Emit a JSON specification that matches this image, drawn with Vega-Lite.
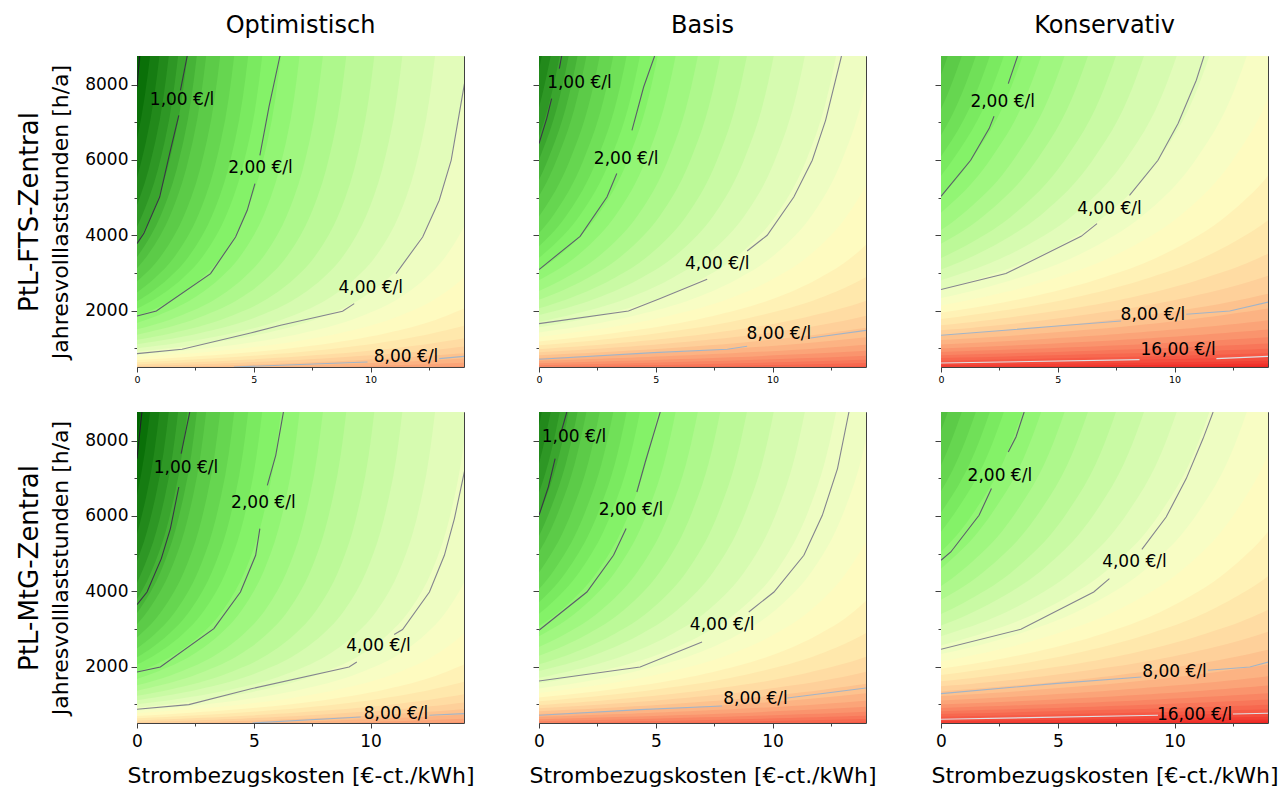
{
"$schema": "https://vega.github.io/schema/vega-lite/v6.json",
"padding": {"left": 15, "top": 13, "right": 2, "bottom": 2},
"background": "white",
"config": {
  "view": {"stroke": "#404040", "strokeWidth": 1},
  "axis": {"grid": false, "domain": false, "tickColor": "#404040", "tickWidth": 1, "labelFont": "DejaVu Sans", "titleFont": "DejaVu Sans", "labelColor": "#000000", "titleColor": "#000000", "titleFontWeight": "normal", "labelFlush": false, "labelOverlap": false, "labelBound": false},
  "title": {"font": "DejaVu Sans", "fontSize": 24, "fontWeight": "normal", "color": "#000000", "frame": "group", "anchor": "middle", "offset": 18, "baseline": "alphabetic"}
},
"datasets": {
"fO": [
{"h":500,"b01":-9,"b02":-27,"b03":-26.6,"b04":-26.2,"b05":-25.8,"b06":-25.4,"b07":-25,"b08":-24.6,"b09":-24.2,"b10":-23.6,"b11":-23,"b12":-22.4,"b13":-21.8,"b14":-21,"b15":-20.2,"b16":-19.2,"b17":-18.2,"b18":-17,"b19":-15.8,"b20":-14.4,"b21":-13,"b22":-11.4,"b23":-9.8,"b24":-7.8,"b25":-5.8,"b26":-3.4,"b27":-1,"b28":1.8,"b29":5,"b30":8.6,"b31":12.6},
{"h":600,"b01":-9,"b02":-22.2,"b03":-21.8,"b04":-21.4,"b05":-21,"b06":-20.6,"b07":-20.2,"b08":-19.8,"b09":-19.4,"b10":-18.8,"b11":-18.2,"b12":-17.6,"b13":-17,"b14":-16.2,"b15":-15.4,"b16":-14.4,"b17":-13.4,"b18":-12.2,"b19":-11,"b20":-9.6,"b21":-8.2,"b22":-6.6,"b23":-5,"b24":-3,"b25":-1,"b26":1.4,"b27":3.8,"b28":6.6,"b29":9.8,"b30":13.4,"b31":17.4},
{"h":700,"b01":-9,"b02":-18.77,"b03":-18.37,"b04":-17.97,"b05":-17.57,"b06":-17.17,"b07":-16.77,"b08":-16.37,"b09":-15.97,"b10":-15.37,"b11":-14.77,"b12":-14.17,"b13":-13.57,"b14":-12.77,"b15":-11.97,"b16":-10.97,"b17":-9.97,"b18":-8.77,"b19":-7.57,"b20":-6.17,"b21":-4.77,"b22":-3.17,"b23":-1.57,"b24":0.43,"b25":2.43,"b26":4.83,"b27":7.23,"b28":10.03,"b29":13.23,"b30":16.83,"b31":20.83},
{"h":850,"b01":-9,"b02":-15.14,"b03":-14.74,"b04":-14.34,"b05":-13.94,"b06":-13.54,"b07":-13.14,"b08":-12.74,"b09":-12.34,"b10":-11.74,"b11":-11.14,"b12":-10.54,"b13":-9.94,"b14":-9.14,"b15":-8.34,"b16":-7.34,"b17":-6.34,"b18":-5.14,"b19":-3.94,"b20":-2.54,"b21":-1.14,"b22":0.46,"b23":2.06,"b24":4.06,"b25":6.06,"b26":8.46,"b27":10.86,"b28":13.66,"b29":16.86,"b30":20.46,"b31":24.46},
{"h":1000,"b01":-9,"b02":-12.6,"b03":-12.2,"b04":-11.8,"b05":-11.4,"b06":-11,"b07":-10.6,"b08":-10.2,"b09":-9.8,"b10":-9.2,"b11":-8.6,"b12":-8,"b13":-7.4,"b14":-6.6,"b15":-5.8,"b16":-4.8,"b17":-3.8,"b18":-2.6,"b19":-1.4,"b20":0,"b21":1.4,"b22":3,"b23":4.6,"b24":6.6,"b25":8.6,"b26":11,"b27":13.4,"b28":16.2,"b29":19.4,"b30":23,"b31":27},
{"h":1250,"b01":-9,"b02":-9.72,"b03":-9.32,"b04":-8.92,"b05":-8.52,"b06":-8.12,"b07":-7.72,"b08":-7.32,"b09":-6.92,"b10":-6.32,"b11":-5.72,"b12":-5.12,"b13":-4.52,"b14":-3.72,"b15":-2.92,"b16":-1.92,"b17":-0.92,"b18":0.28,"b19":1.48,"b20":2.88,"b21":4.28,"b22":5.88,"b23":7.48,"b24":9.48,"b25":11.48,"b26":13.88,"b27":16.28,"b28":19.08,"b29":22.28,"b30":25.88,"b31":29.88},
{"h":1500,"b01":-9,"b02":-7.8,"b03":-7.4,"b04":-7,"b05":-6.6,"b06":-6.2,"b07":-5.8,"b08":-5.4,"b09":-5,"b10":-4.4,"b11":-3.8,"b12":-3.2,"b13":-2.6,"b14":-1.8,"b15":-1,"b16":0,"b17":1,"b18":2.2,"b19":3.4,"b20":4.8,"b21":6.2,"b22":7.8,"b23":9.4,"b24":11.4,"b25":13.4,"b26":15.8,"b27":18.2,"b28":21,"b29":24.2,"b30":27.8,"b31":31.8},
{"h":2000,"b01":-9,"b02":-5.4,"b03":-5,"b04":-4.6,"b05":-4.2,"b06":-3.8,"b07":-3.4,"b08":-3,"b09":-2.6,"b10":-2,"b11":-1.4,"b12":-0.8,"b13":-0.2,"b14":0.6,"b15":1.4,"b16":2.4,"b17":3.4,"b18":4.6,"b19":5.8,"b20":7.2,"b21":8.6,"b22":10.2,"b23":11.8,"b24":13.8,"b25":15.8,"b26":18.2,"b27":20.6,"b28":23.4,"b29":26.6,"b30":30.2,"b31":34.2},
{"h":2500,"b01":-9,"b02":-3.96,"b03":-3.56,"b04":-3.16,"b05":-2.76,"b06":-2.36,"b07":-1.96,"b08":-1.56,"b09":-1.16,"b10":-0.56,"b11":0.04,"b12":0.64,"b13":1.24,"b14":2.04,"b15":2.84,"b16":3.84,"b17":4.84,"b18":6.04,"b19":7.24,"b20":8.64,"b21":10.04,"b22":11.64,"b23":13.24,"b24":15.24,"b25":17.24,"b26":19.64,"b27":22.04,"b28":24.84,"b29":28.04,"b30":31.64,"b31":35.64},
{"h":3000,"b01":-9,"b02":-3,"b03":-2.6,"b04":-2.2,"b05":-1.8,"b06":-1.4,"b07":-1,"b08":-0.6,"b09":-0.2,"b10":0.4,"b11":1,"b12":1.6,"b13":2.2,"b14":3,"b15":3.8,"b16":4.8,"b17":5.8,"b18":7,"b19":8.2,"b20":9.6,"b21":11,"b22":12.6,"b23":14.2,"b24":16.2,"b25":18.2,"b26":20.6,"b27":23,"b28":25.8,"b29":29,"b30":32.6,"b31":36.6},
{"h":4000,"b01":-9,"b02":-1.8,"b03":-1.4,"b04":-1,"b05":-0.6,"b06":-0.2,"b07":0.2,"b08":0.6,"b09":1,"b10":1.6,"b11":2.2,"b12":2.8,"b13":3.4,"b14":4.2,"b15":5,"b16":6,"b17":7,"b18":8.2,"b19":9.4,"b20":10.8,"b21":12.2,"b22":13.8,"b23":15.4,"b24":17.4,"b25":19.4,"b26":21.8,"b27":24.2,"b28":27,"b29":30.2,"b30":33.8,"b31":37.8},
{"h":5000,"b01":-9,"b02":-1.08,"b03":-0.68,"b04":-0.28,"b05":0.12,"b06":0.52,"b07":0.92,"b08":1.32,"b09":1.72,"b10":2.32,"b11":2.92,"b12":3.52,"b13":4.12,"b14":4.92,"b15":5.72,"b16":6.72,"b17":7.72,"b18":8.92,"b19":10.12,"b20":11.52,"b21":12.92,"b22":14.52,"b23":16.12,"b24":18.12,"b25":20.12,"b26":22.52,"b27":24.92,"b28":27.72,"b29":30.92,"b30":34.52,"b31":38.52},
{"h":6500,"b01":-9,"b02":-0.42,"b03":-0.02,"b04":0.39,"b05":0.79,"b06":1.19,"b07":1.59,"b08":1.99,"b09":2.39,"b10":2.99,"b11":3.59,"b12":4.19,"b13":4.79,"b14":5.59,"b15":6.39,"b16":7.39,"b17":8.39,"b18":9.59,"b19":10.79,"b20":12.19,"b21":13.59,"b22":15.19,"b23":16.79,"b24":18.79,"b25":20.79,"b26":23.19,"b27":25.59,"b28":28.39,"b29":31.59,"b30":35.19,"b31":39.19},
{"h":8760,"b01":-9,"b02":0.16,"b03":0.56,"b04":0.96,"b05":1.36,"b06":1.76,"b07":2.16,"b08":2.56,"b09":2.96,"b10":3.56,"b11":4.16,"b12":4.76,"b13":5.36,"b14":6.16,"b15":6.96,"b16":7.96,"b17":8.96,"b18":10.16,"b19":11.36,"b20":12.76,"b21":14.16,"b22":15.76,"b23":17.36,"b24":19.36,"b25":21.36,"b26":23.76,"b27":26.16,"b28":28.96,"b29":32.16,"b30":35.76,"b31":39.76}
],
"fB": [
{"h":500,"b03":-9,"b04":-45.23,"b05":-44.85,"b06":-44.46,"b07":-44.08,"b08":-43.7,"b09":-43.32,"b10":-42.75,"b11":-42.17,"b12":-41.6,"b13":-41.03,"b14":-40.27,"b15":-39.5,"b16":-38.55,"b17":-37.59,"b18":-36.45,"b19":-35.3,"b20":-33.97,"b21":-32.63,"b22":-31.1,"b23":-29.58,"b24":-27.67,"b25":-25.76,"b26":-23.47,"b27":-21.18,"b28":-18.51,"b29":-15.46,"b30":-12.02,"b31":-8.2,"b32":-4.01,"b33":0.57,"b34":5.54,"b35":11.26},
{"h":600,"b03":-9,"b04":-37.22,"b05":-36.84,"b06":-36.45,"b07":-36.07,"b08":-35.69,"b09":-35.31,"b10":-34.74,"b11":-34.16,"b12":-33.59,"b13":-33.02,"b14":-32.26,"b15":-31.49,"b16":-30.54,"b17":-29.58,"b18":-28.44,"b19":-27.29,"b20":-25.96,"b21":-24.62,"b22":-23.09,"b23":-21.57,"b24":-19.66,"b25":-17.75,"b26":-15.46,"b27":-13.17,"b28":-10.5,"b29":-7.45,"b30":-4.01,"b31":-0.19,"b32":4,"b33":8.58,"b34":13.55,"b35":19.27},
{"h":700,"b03":-9,"b04":-31.49,"b05":-31.11,"b06":-30.72,"b07":-30.34,"b08":-29.96,"b09":-29.58,"b10":-29.01,"b11":-28.43,"b12":-27.86,"b13":-27.29,"b14":-26.53,"b15":-25.76,"b16":-24.81,"b17":-23.85,"b18":-22.71,"b19":-21.56,"b20":-20.23,"b21":-18.89,"b22":-17.36,"b23":-15.84,"b24":-13.93,"b25":-12.02,"b26":-9.73,"b27":-7.44,"b28":-4.77,"b29":-1.72,"b30":1.72,"b31":5.54,"b32":9.73,"b33":14.31,"b34":19.28,"b35":25},
{"h":850,"b03":-9,"b04":-25.43,"b05":-25.05,"b06":-24.66,"b07":-24.28,"b08":-23.9,"b09":-23.52,"b10":-22.95,"b11":-22.37,"b12":-21.8,"b13":-21.23,"b14":-20.47,"b15":-19.7,"b16":-18.75,"b17":-17.79,"b18":-16.65,"b19":-15.5,"b20":-14.17,"b21":-12.83,"b22":-11.3,"b23":-9.78,"b24":-7.87,"b25":-5.96,"b26":-3.67,"b27":-1.38,"b28":1.29,"b29":4.34,"b30":7.78,"b31":11.6,"b32":15.79,"b33":20.37,"b34":25.34,"b35":31.06},
{"h":1000,"b03":-9,"b04":-21.19,"b05":-20.81,"b06":-20.42,"b07":-20.04,"b08":-19.66,"b09":-19.28,"b10":-18.71,"b11":-18.13,"b12":-17.56,"b13":-16.99,"b14":-16.23,"b15":-15.46,"b16":-14.51,"b17":-13.55,"b18":-12.41,"b19":-11.26,"b20":-9.93,"b21":-8.59,"b22":-7.06,"b23":-5.54,"b24":-3.63,"b25":-1.72,"b26":0.57,"b27":2.86,"b28":5.53,"b29":8.58,"b30":12.02,"b31":15.84,"b32":20.03,"b33":24.61,"b34":29.58,"b35":35.3},
{"h":1250,"b03":-9,"b04":-16.38,"b05":-16,"b06":-15.61,"b07":-15.23,"b08":-14.85,"b09":-14.47,"b10":-13.9,"b11":-13.32,"b12":-12.75,"b13":-12.18,"b14":-11.42,"b15":-10.65,"b16":-9.7,"b17":-8.74,"b18":-7.6,"b19":-6.45,"b20":-5.12,"b21":-3.78,"b22":-2.25,"b23":-0.73,"b24":1.18,"b25":3.09,"b26":5.38,"b27":7.67,"b28":10.34,"b29":13.39,"b30":16.83,"b31":20.65,"b32":24.84,"b33":29.42,"b34":34.39,"b35":40.11},
{"h":1500,"b03":-9,"b04":-13.17,"b05":-12.79,"b06":-12.4,"b07":-12.02,"b08":-11.64,"b09":-11.26,"b10":-10.69,"b11":-10.11,"b12":-9.54,"b13":-8.97,"b14":-8.21,"b15":-7.44,"b16":-6.49,"b17":-5.53,"b18":-4.39,"b19":-3.24,"b20":-1.91,"b21":-0.57,"b22":0.96,"b23":2.48,"b24":4.39,"b25":6.3,"b26":8.59,"b27":10.88,"b28":13.55,"b29":16.6,"b30":20.04,"b31":23.86,"b32":28.05,"b33":32.63,"b34":37.6,"b35":43.32},
{"h":2000,"b03":-9,"b04":-9.16,"b05":-8.78,"b06":-8.39,"b07":-8.01,"b08":-7.63,"b09":-7.25,"b10":-6.68,"b11":-6.1,"b12":-5.53,"b13":-4.96,"b14":-4.2,"b15":-3.43,"b16":-2.48,"b17":-1.52,"b18":-0.38,"b19":0.77,"b20":2.1,"b21":3.44,"b22":4.97,"b23":6.49,"b24":8.4,"b25":10.31,"b26":12.6,"b27":14.89,"b28":17.56,"b29":20.61,"b30":24.05,"b31":27.87,"b32":32.06,"b33":36.64,"b34":41.61,"b35":47.33},
{"h":2500,"b03":-9,"b04":-6.76,"b05":-6.38,"b06":-5.99,"b07":-5.61,"b08":-5.23,"b09":-4.85,"b10":-4.28,"b11":-3.7,"b12":-3.13,"b13":-2.56,"b14":-1.8,"b15":-1.03,"b16":-0.08,"b17":0.88,"b18":2.02,"b19":3.17,"b20":4.5,"b21":5.84,"b22":7.37,"b23":8.89,"b24":10.8,"b25":12.71,"b26":15,"b27":17.29,"b28":19.96,"b29":23.01,"b30":26.45,"b31":30.27,"b32":34.46,"b33":39.04,"b34":44.01,"b35":49.73},
{"h":3000,"b03":-9,"b04":-5.16,"b05":-4.78,"b06":-4.39,"b07":-4.01,"b08":-3.63,"b09":-3.25,"b10":-2.68,"b11":-2.1,"b12":-1.53,"b13":-0.96,"b14":-0.2,"b15":0.57,"b16":1.52,"b17":2.48,"b18":3.62,"b19":4.77,"b20":6.1,"b21":7.44,"b22":8.97,"b23":10.49,"b24":12.4,"b25":14.31,"b26":16.6,"b27":18.89,"b28":21.56,"b29":24.61,"b30":28.05,"b31":31.87,"b32":36.06,"b33":40.64,"b34":45.61,"b35":51.33},
{"h":4000,"b03":-9,"b04":-3.15,"b05":-2.77,"b06":-2.38,"b07":-2,"b08":-1.62,"b09":-1.24,"b10":-0.67,"b11":-0.09,"b12":0.48,"b13":1.05,"b14":1.81,"b15":2.58,"b16":3.53,"b17":4.49,"b18":5.63,"b19":6.78,"b20":8.11,"b21":9.45,"b22":10.98,"b23":12.5,"b24":14.41,"b25":16.32,"b26":18.61,"b27":20.9,"b28":23.57,"b29":26.62,"b30":30.06,"b31":33.88,"b32":38.07,"b33":42.65,"b34":47.62,"b35":53.34},
{"h":5000,"b03":-9,"b04":-1.95,"b05":-1.57,"b06":-1.18,"b07":-0.8,"b08":-0.42,"b09":-0.04,"b10":0.53,"b11":1.11,"b12":1.68,"b13":2.25,"b14":3.01,"b15":3.78,"b16":4.73,"b17":5.69,"b18":6.83,"b19":7.98,"b20":9.31,"b21":10.65,"b22":12.18,"b23":13.7,"b24":15.61,"b25":17.52,"b26":19.81,"b27":22.1,"b28":24.77,"b29":27.82,"b30":31.26,"b31":35.08,"b32":39.27,"b33":43.85,"b34":48.82,"b35":54.54},
{"h":6500,"b03":-9,"b04":-0.84,"b05":-0.46,"b06":-0.07,"b07":0.31,"b08":0.69,"b09":1.07,"b10":1.64,"b11":2.22,"b12":2.79,"b13":3.36,"b14":4.12,"b15":4.89,"b16":5.84,"b17":6.8,"b18":7.94,"b19":9.09,"b20":10.42,"b21":11.76,"b22":13.29,"b23":14.81,"b24":16.72,"b25":18.63,"b26":20.92,"b27":23.21,"b28":25.88,"b29":28.93,"b30":32.37,"b31":36.19,"b32":40.38,"b33":44.96,"b34":49.93,"b35":55.65},
{"h":8760,"b03":-9,"b04":0.12,"b05":0.5,"b06":0.89,"b07":1.27,"b08":1.65,"b09":2.03,"b10":2.6,"b11":3.18,"b12":3.75,"b13":4.32,"b14":5.08,"b15":5.85,"b16":6.8,"b17":7.76,"b18":8.9,"b19":10.05,"b20":11.38,"b21":12.72,"b22":14.25,"b23":15.77,"b24":17.68,"b25":19.59,"b26":21.88,"b27":24.17,"b28":26.84,"b29":29.89,"b30":33.33,"b31":37.15,"b32":41.34,"b33":45.92,"b34":50.89,"b35":56.61}
],
"fK": [
{"h":500,"b08":-9,"b09":-78.16,"b10":-77.56,"b11":-76.96,"b12":-76.36,"b13":-75.76,"b14":-74.96,"b15":-74.16,"b16":-73.16,"b17":-72.16,"b18":-70.96,"b19":-69.76,"b20":-68.36,"b21":-66.96,"b22":-65.36,"b23":-63.76,"b24":-61.76,"b25":-59.76,"b26":-57.36,"b27":-54.96,"b28":-52.16,"b29":-48.96,"b30":-45.36,"b31":-41.36,"b32":-36.96,"b33":-32.16,"b34":-26.96,"b35":-20.96,"b36":-14.96,"b37":-6.96,"b38":1.04,"b39":9.04},
{"h":600,"b08":-9,"b09":-64.29,"b10":-63.69,"b11":-63.09,"b12":-62.49,"b13":-61.89,"b14":-61.09,"b15":-60.29,"b16":-59.29,"b17":-58.29,"b18":-57.09,"b19":-55.89,"b20":-54.49,"b21":-53.09,"b22":-51.49,"b23":-49.89,"b24":-47.89,"b25":-45.89,"b26":-43.49,"b27":-41.09,"b28":-38.29,"b29":-35.09,"b30":-31.49,"b31":-27.49,"b32":-23.09,"b33":-18.29,"b34":-13.09,"b35":-7.09,"b36":-1.09,"b37":6.91,"b38":14.91,"b39":22.91},
{"h":700,"b08":-9,"b09":-54.39,"b10":-53.79,"b11":-53.19,"b12":-52.59,"b13":-51.99,"b14":-51.19,"b15":-50.39,"b16":-49.39,"b17":-48.39,"b18":-47.19,"b19":-45.99,"b20":-44.59,"b21":-43.19,"b22":-41.59,"b23":-39.99,"b24":-37.99,"b25":-35.99,"b26":-33.59,"b27":-31.19,"b28":-28.39,"b29":-25.19,"b30":-21.59,"b31":-17.59,"b32":-13.19,"b33":-8.39,"b34":-3.19,"b35":2.81,"b36":8.81,"b37":16.81,"b38":24.81,"b39":32.81},
{"h":850,"b08":-9,"b09":-43.9,"b10":-43.3,"b11":-42.7,"b12":-42.1,"b13":-41.5,"b14":-40.7,"b15":-39.9,"b16":-38.9,"b17":-37.9,"b18":-36.7,"b19":-35.5,"b20":-34.1,"b21":-32.7,"b22":-31.1,"b23":-29.5,"b24":-27.5,"b25":-25.5,"b26":-23.1,"b27":-20.7,"b28":-17.9,"b29":-14.7,"b30":-11.1,"b31":-7.1,"b32":-2.7,"b33":2.1,"b34":7.3,"b35":13.3,"b36":19.3,"b37":27.3,"b38":35.3,"b39":43.3},
{"h":1000,"b08":-9,"b09":-36.56,"b10":-35.96,"b11":-35.36,"b12":-34.76,"b13":-34.16,"b14":-33.36,"b15":-32.56,"b16":-31.56,"b17":-30.56,"b18":-29.36,"b19":-28.16,"b20":-26.76,"b21":-25.36,"b22":-23.76,"b23":-22.16,"b24":-20.16,"b25":-18.16,"b26":-15.76,"b27":-13.36,"b28":-10.56,"b29":-7.36,"b30":-3.76,"b31":0.24,"b32":4.64,"b33":9.44,"b34":14.64,"b35":20.64,"b36":26.64,"b37":34.64,"b38":42.64,"b39":50.64},
{"h":1250,"b08":-9,"b09":-28.24,"b10":-27.64,"b11":-27.04,"b12":-26.44,"b13":-25.84,"b14":-25.04,"b15":-24.24,"b16":-23.24,"b17":-22.24,"b18":-21.04,"b19":-19.84,"b20":-18.44,"b21":-17.04,"b22":-15.44,"b23":-13.84,"b24":-11.84,"b25":-9.84,"b26":-7.44,"b27":-5.04,"b28":-2.24,"b29":0.96,"b30":4.56,"b31":8.56,"b32":12.96,"b33":17.76,"b34":22.96,"b35":28.96,"b36":34.96,"b37":42.96,"b38":50.96,"b39":58.96},
{"h":1500,"b08":-9,"b09":-22.69,"b10":-22.09,"b11":-21.49,"b12":-20.89,"b13":-20.29,"b14":-19.49,"b15":-18.69,"b16":-17.69,"b17":-16.69,"b18":-15.49,"b19":-14.29,"b20":-12.89,"b21":-11.49,"b22":-9.89,"b23":-8.29,"b24":-6.29,"b25":-4.29,"b26":-1.89,"b27":0.51,"b28":3.31,"b29":6.51,"b30":10.11,"b31":14.11,"b32":18.51,"b33":23.31,"b34":28.51,"b35":34.51,"b36":40.51,"b37":48.51,"b38":56.51,"b39":64.51},
{"h":2000,"b08":-9,"b09":-15.76,"b10":-15.16,"b11":-14.56,"b12":-13.96,"b13":-13.36,"b14":-12.56,"b15":-11.76,"b16":-10.76,"b17":-9.76,"b18":-8.56,"b19":-7.36,"b20":-5.96,"b21":-4.56,"b22":-2.96,"b23":-1.36,"b24":0.64,"b25":2.64,"b26":5.04,"b27":7.44,"b28":10.24,"b29":13.44,"b30":17.04,"b31":21.04,"b32":25.44,"b33":30.24,"b34":35.44,"b35":41.44,"b36":47.44,"b37":55.44,"b38":63.44,"b39":71.44},
{"h":2500,"b08":-9,"b09":-11.6,"b10":-11,"b11":-10.4,"b12":-9.8,"b13":-9.2,"b14":-8.4,"b15":-7.6,"b16":-6.6,"b17":-5.6,"b18":-4.4,"b19":-3.2,"b20":-1.8,"b21":-0.4,"b22":1.2,"b23":2.8,"b24":4.8,"b25":6.8,"b26":9.2,"b27":11.6,"b28":14.4,"b29":17.6,"b30":21.2,"b31":25.2,"b32":29.6,"b33":34.4,"b34":39.6,"b35":45.6,"b36":51.6,"b37":59.6,"b38":67.6,"b39":75.6},
{"h":3000,"b08":-9,"b09":-8.83,"b10":-8.23,"b11":-7.63,"b12":-7.03,"b13":-6.43,"b14":-5.63,"b15":-4.83,"b16":-3.83,"b17":-2.83,"b18":-1.63,"b19":-0.43,"b20":0.97,"b21":2.37,"b22":3.97,"b23":5.57,"b24":7.57,"b25":9.57,"b26":11.97,"b27":14.37,"b28":17.17,"b29":20.37,"b30":23.97,"b31":27.97,"b32":32.37,"b33":37.17,"b34":42.37,"b35":48.37,"b36":54.37,"b37":62.37,"b38":70.37,"b39":78.37},
{"h":4000,"b08":-9,"b09":-5.36,"b10":-4.76,"b11":-4.16,"b12":-3.56,"b13":-2.96,"b14":-2.16,"b15":-1.36,"b16":-0.36,"b17":0.64,"b18":1.84,"b19":3.04,"b20":4.44,"b21":5.84,"b22":7.44,"b23":9.04,"b24":11.04,"b25":13.04,"b26":15.44,"b27":17.84,"b28":20.64,"b29":23.84,"b30":27.44,"b31":31.44,"b32":35.84,"b33":40.64,"b34":45.84,"b35":51.84,"b36":57.84,"b37":65.84,"b38":73.84,"b39":81.84},
{"h":5000,"b08":-9,"b09":-3.28,"b10":-2.68,"b11":-2.08,"b12":-1.48,"b13":-0.88,"b14":-0.08,"b15":0.72,"b16":1.72,"b17":2.72,"b18":3.92,"b19":5.12,"b20":6.52,"b21":7.92,"b22":9.52,"b23":11.12,"b24":13.12,"b25":15.12,"b26":17.52,"b27":19.92,"b28":22.72,"b29":25.92,"b30":29.52,"b31":33.52,"b32":37.92,"b33":42.72,"b34":47.92,"b35":53.92,"b36":59.92,"b37":67.92,"b38":75.92,"b39":83.92},
{"h":6500,"b08":-9,"b09":-1.36,"b10":-0.76,"b11":-0.16,"b12":0.44,"b13":1.04,"b14":1.84,"b15":2.64,"b16":3.64,"b17":4.64,"b18":5.84,"b19":7.04,"b20":8.44,"b21":9.84,"b22":11.44,"b23":13.04,"b24":15.04,"b25":17.04,"b26":19.44,"b27":21.84,"b28":24.64,"b29":27.84,"b30":31.44,"b31":35.44,"b32":39.84,"b33":44.64,"b34":49.84,"b35":55.84,"b36":61.84,"b37":69.84,"b38":77.84,"b39":85.84},
{"h":8760,"b08":-9,"b09":0.29,"b10":0.89,"b11":1.49,"b12":2.09,"b13":2.69,"b14":3.49,"b15":4.29,"b16":5.29,"b17":6.29,"b18":7.49,"b19":8.69,"b20":10.09,"b21":11.49,"b22":13.09,"b23":14.69,"b24":16.69,"b25":18.69,"b26":21.09,"b27":23.49,"b28":26.29,"b29":29.49,"b30":33.09,"b31":37.09,"b32":41.49,"b33":46.29,"b34":51.49,"b35":57.49,"b36":63.49,"b37":71.49,"b38":79.49,"b39":87.49}
],
"ln": [
{"pn":"OF","lv":"0,50","sg":"OF0","p":0,"h":7937},
{"pn":"OF","lv":"0,50","sg":"OF0","p":0.11,"h":8760},
{"pn":"OF","lv":"1,00","sg":"OF1a","p":0,"h":3778},
{"pn":"OF","lv":"1,00","sg":"OF1a","p":0.29,"h":4043},
{"pn":"OF","lv":"1,00","sg":"OF1a","p":0.97,"h":5015},
{"pn":"OF","lv":"1,00","sg":"OF1a","p":1.43,"h":6255},
{"pn":"OF","lv":"1,00","sg":"OF1a","p":1.79,"h":7185},
{"pn":"OF","lv":"1,00","sg":"OF1b","p":1.86,"h":7849},
{"pn":"OF","lv":"1,00","sg":"OF1b","p":2.15,"h":8760},
{"pn":"OF","lv":"2,00","sg":"OF2a","p":0,"h":1855},
{"pn":"OF","lv":"2,00","sg":"OF2a","p":0.83,"h":1987},
{"pn":"OF","lv":"2,00","sg":"OF2a","p":3.15,"h":2981},
{"pn":"OF","lv":"2,00","sg":"OF2a","p":4.22,"h":3953},
{"pn":"OF","lv":"2,00","sg":"OF2a","p":4.72,"h":4662},
{"pn":"OF","lv":"2,00","sg":"OF2a","p":5.05,"h":5371},
{"pn":"OF","lv":"2,00","sg":"OF2b","p":5.26,"h":6123},
{"pn":"OF","lv":"2,00","sg":"OF2b","p":5.65,"h":7406},
{"pn":"OF","lv":"2,00","sg":"OF2b","p":6.12,"h":8760},
{"pn":"OF","lv":"4,00","sg":"OF4a","p":0,"h":856},
{"pn":"OF","lv":"4,00","sg":"OF4a","p":1.93,"h":970},
{"pn":"OF","lv":"4,00","sg":"OF4a","p":4.86,"h":1403},
{"pn":"OF","lv":"4,00","sg":"OF4a","p":6.15,"h":1608},
{"pn":"OF","lv":"4,00","sg":"OF4a","p":8.8,"h":1979},
{"pn":"OF","lv":"4,00","sg":"OF4a","p":9.3,"h":2184},
{"pn":"OF","lv":"4,00","sg":"OF4b","p":11.09,"h":2981},
{"pn":"OF","lv":"4,00","sg":"OF4b","p":12.23,"h":3953},
{"pn":"OF","lv":"4,00","sg":"OF4b","p":12.94,"h":4928},
{"pn":"OF","lv":"4,00","sg":"OF4b","p":13.45,"h":5990},
{"pn":"OF","lv":"4,00","sg":"OF4b","p":14.02,"h":8027},
{"pn":"OF","lv":"8,00","sg":"OF8a","p":4.15,"h":500},
{"pn":"OF","lv":"8,00","sg":"OF8a","p":9.87,"h":633},
{"pn":"OF","lv":"8,00","sg":"OF8b","p":12.94,"h":723},
{"pn":"OF","lv":"8,00","sg":"OF8b","p":14.02,"h":784},
{"pn":"OM","lv":"0,50","sg":"OM0","p":0,"h":7522},
{"pn":"OM","lv":"0,50","sg":"OM0","p":0.21,"h":8760},
{"pn":"OM","lv":"1,00","sg":"OM1a","p":0,"h":3645},
{"pn":"OM","lv":"1,00","sg":"OM1a","p":0.43,"h":3979},
{"pn":"OM","lv":"1,00","sg":"OM1a","p":1.04,"h":4866},
{"pn":"OM","lv":"1,00","sg":"OM1a","p":1.43,"h":5663},
{"pn":"OM","lv":"1,00","sg":"OM1a","p":1.79,"h":6768},
{"pn":"OM","lv":"1,00","sg":"OM1b","p":1.89,"h":7655},
{"pn":"OM","lv":"1,00","sg":"OM1b","p":2.26,"h":8760},
{"pn":"OM","lv":"2,00","sg":"OM2a","p":0,"h":1855},
{"pn":"OM","lv":"2,00","sg":"OM2a","p":1.0,"h":1987},
{"pn":"OM","lv":"2,00","sg":"OM2a","p":3.29,"h":3007},
{"pn":"OM","lv":"2,00","sg":"OM2a","p":4.43,"h":3979},
{"pn":"OM","lv":"2,00","sg":"OM2a","p":5.08,"h":4954},
{"pn":"OM","lv":"2,00","sg":"OM2a","p":5.26,"h":5663},
{"pn":"OM","lv":"2,00","sg":"OM2b","p":5.58,"h":6813},
{"pn":"OM","lv":"2,00","sg":"OM2b","p":5.94,"h":7610},
{"pn":"OM","lv":"2,00","sg":"OM2b","p":6.27,"h":8760},
{"pn":"OM","lv":"4,00","sg":"OM4a","p":0,"h":864},
{"pn":"OM","lv":"4,00","sg":"OM4a","p":2.22,"h":989},
{"pn":"OM","lv":"4,00","sg":"OM4a","p":4.93,"h":1414},
{"pn":"OM","lv":"4,00","sg":"OM4a","p":9.08,"h":1987},
{"pn":"OM","lv":"4,00","sg":"OM4a","p":9.41,"h":2120},
{"pn":"OM","lv":"4,00","sg":"OM4b","p":11.01,"h":2848},
{"pn":"OM","lv":"4,00","sg":"OM4b","p":11.37,"h":2981},
{"pn":"OM","lv":"4,00","sg":"OM4b","p":12.52,"h":3979},
{"pn":"OM","lv":"4,00","sg":"OM4b","p":13.16,"h":4954},
{"pn":"OM","lv":"4,00","sg":"OM4b","p":13.59,"h":5929},
{"pn":"OM","lv":"4,00","sg":"OM4b","p":14.02,"h":7185},
{"pn":"OM","lv":"8,00","sg":"OM8a","p":4.94,"h":500},
{"pn":"OM","lv":"8,00","sg":"OM8a","p":9.58,"h":659},
{"pn":"OM","lv":"8,00","sg":"OM8b","p":12.52,"h":705},
{"pn":"OM","lv":"8,00","sg":"OM8b","p":14.02,"h":750},
{"pn":"BF","lv":"1,00","sg":"BF1a","p":0,"h":6434},
{"pn":"BF","lv":"1,00","sg":"BF1a","p":0.33,"h":7097},
{"pn":"BF","lv":"1,00","sg":"BF1a","p":0.54,"h":7629},
{"pn":"BF","lv":"1,00","sg":"BF1b","p":0.87,"h":8426},
{"pn":"BF","lv":"1,00","sg":"BF1b","p":0.97,"h":8760},
{"pn":"BF","lv":"2,00","sg":"BF2a","p":0,"h":3087},
{"pn":"BF","lv":"2,00","sg":"BF2a","p":1.76,"h":3971},
{"pn":"BF","lv":"2,00","sg":"BF2a","p":2.91,"h":5015},
{"pn":"BF","lv":"2,00","sg":"BF2a","p":3.33,"h":5637},
{"pn":"BF","lv":"2,00","sg":"BF2b","p":3.98,"h":6787},
{"pn":"BF","lv":"2,00","sg":"BF2b","p":4.48,"h":7937},
{"pn":"BF","lv":"2,00","sg":"BF2b","p":4.95,"h":8760},
{"pn":"BF","lv":"4,00","sg":"BF4a","p":0,"h":1653},
{"pn":"BF","lv":"4,00","sg":"BF4a","p":3.83,"h":1987},
{"pn":"BF","lv":"4,00","sg":"BF4a","p":5.19,"h":2317},
{"pn":"BF","lv":"4,00","sg":"BF4a","p":7.2,"h":2829},
{"pn":"BF","lv":"4,00","sg":"BF4b","p":8.91,"h":3581},
{"pn":"BF","lv":"4,00","sg":"BF4b","p":9.77,"h":3998},
{"pn":"BF","lv":"4,00","sg":"BF4b","p":10.91,"h":5015},
{"pn":"BF","lv":"4,00","sg":"BF4b","p":11.7,"h":5990},
{"pn":"BF","lv":"4,00","sg":"BF4b","p":12.27,"h":7052},
{"pn":"BF","lv":"4,00","sg":"BF4b","p":12.95,"h":8760},
{"pn":"BF","lv":"8,00","sg":"BF8a","p":0,"h":705},
{"pn":"BF","lv":"8,00","sg":"BF8a","p":4.91,"h":882},
{"pn":"BF","lv":"8,00","sg":"BF8a","p":8.06,"h":970},
{"pn":"BF","lv":"8,00","sg":"BF8a","p":8.91,"h":1050},
{"pn":"BF","lv":"8,00","sg":"BF8b","p":11.63,"h":1270},
{"pn":"BF","lv":"8,00","sg":"BF8b","p":14.02,"h":1475},
{"pn":"BM","lv":"1,00","sg":"BM1a","p":0,"h":6016},
{"pn":"BM","lv":"1,00","sg":"BM1a","p":0.4,"h":6768},
{"pn":"BM","lv":"1,00","sg":"BM1a","p":0.69,"h":7522},
{"pn":"BM","lv":"1,00","sg":"BM1b","p":0.97,"h":8274},
{"pn":"BM","lv":"1,00","sg":"BM1b","p":1.19,"h":8760},
{"pn":"BM","lv":"2,00","sg":"BM2a","p":0,"h":2962},
{"pn":"BM","lv":"2,00","sg":"BM2a","p":2.05,"h":3979},
{"pn":"BM","lv":"2,00","sg":"BM2a","p":3.19,"h":4954},
{"pn":"BM","lv":"2,00","sg":"BM2a","p":3.73,"h":5663},
{"pn":"BM","lv":"2,00","sg":"BM2b","p":4.19,"h":6635},
{"pn":"BM","lv":"2,00","sg":"BM2b","p":4.55,"h":7432},
{"pn":"BM","lv":"2,00","sg":"BM2b","p":5.19,"h":8760},
{"pn":"BM","lv":"4,00","sg":"BM4a","p":0,"h":1616},
{"pn":"BM","lv":"4,00","sg":"BM4a","p":4.33,"h":1987},
{"pn":"BM","lv":"4,00","sg":"BM4a","p":6.98,"h":2651},
{"pn":"BM","lv":"4,00","sg":"BM4b","p":8.98,"h":3448},
{"pn":"BM","lv":"4,00","sg":"BM4b","p":10.06,"h":3979},
{"pn":"BM","lv":"4,00","sg":"BM4b","p":11.34,"h":4954},
{"pn":"BM","lv":"4,00","sg":"BM4b","p":12.13,"h":6016},
{"pn":"BM","lv":"4,00","sg":"BM4b","p":12.78,"h":7257},
{"pn":"BM","lv":"4,00","sg":"BM4b","p":13.27,"h":8760},
{"pn":"BM","lv":"8,00","sg":"BM8a","p":0,"h":705},
{"pn":"BM","lv":"8,00","sg":"BM8a","p":4.33,"h":856},
{"pn":"BM","lv":"8,00","sg":"BM8a","p":7.84,"h":952},
{"pn":"BM","lv":"8,00","sg":"BM8b","p":10.63,"h":1164},
{"pn":"BM","lv":"8,00","sg":"BM8b","p":14.0,"h":1430},
{"pn":"KF","lv":"2,00","sg":"KF2a","p":0,"h":5034},
{"pn":"KF","lv":"2,00","sg":"KF2a","p":1.27,"h":5990},
{"pn":"KF","lv":"2,00","sg":"KF2a","p":2.06,"h":6832},
{"pn":"KF","lv":"2,00","sg":"KF2a","p":2.27,"h":7159},
{"pn":"KF","lv":"2,00","sg":"KF2b","p":2.88,"h":8027},
{"pn":"KF","lv":"2,00","sg":"KF2b","p":3.28,"h":8760},
{"pn":"KF","lv":"4,00","sg":"KF4a","p":0,"h":2556},
{"pn":"KF","lv":"4,00","sg":"KF4a","p":2.78,"h":2981},
{"pn":"KF","lv":"4,00","sg":"KF4a","p":6.0,"h":3971},
{"pn":"KF","lv":"4,00","sg":"KF4a","p":6.68,"h":4309},
{"pn":"KF","lv":"4,00","sg":"KF4b","p":8.07,"h":5060},
{"pn":"KF","lv":"4,00","sg":"KF4b","p":9.29,"h":5990},
{"pn":"KF","lv":"4,00","sg":"KF4b","p":10.15,"h":6965},
{"pn":"KF","lv":"4,00","sg":"KF4b","p":10.93,"h":8115},
{"pn":"KF","lv":"4,00","sg":"KF4b","p":11.26,"h":8760},
{"pn":"KF","lv":"8,00","sg":"KF8a","p":0,"h":1342},
{"pn":"KF","lv":"8,00","sg":"KF8a","p":4.85,"h":1581},
{"pn":"KF","lv":"8,00","sg":"KF8a","p":7.71,"h":1722},
{"pn":"KF","lv":"8,00","sg":"KF8b","p":10.5,"h":1900},
{"pn":"KF","lv":"8,00","sg":"KF8b","p":12.36,"h":1987},
{"pn":"KF","lv":"8,00","sg":"KF8b","p":14.02,"h":2226},
{"pn":"KF","lv":"16,00","sg":"KF16a","p":0,"h":606},
{"pn":"KF","lv":"16,00","sg":"KF16a","p":8.5,"h":697},
{"pn":"KF","lv":"16,00","sg":"KF16b","p":11.79,"h":723},
{"pn":"KF","lv":"16,00","sg":"KF16b","p":14.02,"h":784},
{"pn":"KM","lv":"2,00","sg":"KM2a","p":0,"h":4821},
{"pn":"KM","lv":"2,00","sg":"KM2a","p":0.42,"h":5042},
{"pn":"KM","lv":"2,00","sg":"KM2a","p":1.63,"h":6016},
{"pn":"KM","lv":"2,00","sg":"KM2a","p":2.16,"h":6726},
{"pn":"KM","lv":"2,00","sg":"KM2b","p":2.88,"h":7698},
{"pn":"KM","lv":"2,00","sg":"KM2b","p":3.21,"h":8096},
{"pn":"KM","lv":"2,00","sg":"KM2b","p":3.56,"h":8760},
{"pn":"KM","lv":"4,00","sg":"KM4a","p":0,"h":2457},
{"pn":"KM","lv":"4,00","sg":"KM4a","p":3.42,"h":2989},
{"pn":"KM","lv":"4,00","sg":"KM4a","p":6.54,"h":3979},
{"pn":"KM","lv":"4,00","sg":"KM4a","p":7.21,"h":4335},
{"pn":"KM","lv":"4,00","sg":"KM4b","p":8.6,"h":5113},
{"pn":"KM","lv":"4,00","sg":"KM4b","p":9.64,"h":5971},
{"pn":"KM","lv":"4,00","sg":"KM4b","p":10.5,"h":6991},
{"pn":"KM","lv":"4,00","sg":"KM4b","p":11.22,"h":8054},
{"pn":"KM","lv":"4,00","sg":"KM4b","p":11.65,"h":8760},
{"pn":"KM","lv":"8,00","sg":"KM8a","p":0,"h":1281},
{"pn":"KM","lv":"8,00","sg":"KM8a","p":4.85,"h":1546},
{"pn":"KM","lv":"8,00","sg":"KM8a","p":8.58,"h":1722},
{"pn":"KM","lv":"8,00","sg":"KM8b","p":11.43,"h":1900},
{"pn":"KM","lv":"8,00","sg":"KM8b","p":13.22,"h":1987},
{"pn":"KM","lv":"8,00","sg":"KM8b","p":14.02,"h":2120},
{"pn":"KM","lv":"16,00","sg":"KM16a","p":0,"h":598},
{"pn":"KM","lv":"16,00","sg":"KM16a","p":9.29,"h":705},
{"pn":"KM","lv":"16,00","sg":"KM16b","p":12.5,"h":739},
{"pn":"KM","lv":"16,00","sg":"KM16b","p":14.02,"h":758}
],
"lb": [
{"pn":"OF","t":"1,00 €/l","p":1.93,"h":7583},
{"pn":"OF","t":"2,00 €/l","p":5.29,"h":5785},
{"pn":"OF","t":"4,00 €/l","p":10.01,"h":2609},
{"pn":"OF","t":"8,00 €/l","p":11.52,"h":766},
{"pn":"OM","t":"1,00 €/l","p":2.1,"h":7273},
{"pn":"OM","t":"2,00 €/l","p":5.41,"h":6354},
{"pn":"OM","t":"4,00 €/l","p":10.34,"h":2545},
{"pn":"OM","t":"8,00 €/l","p":11.09,"h":750},
{"pn":"BF","t":"1,00 €/l","p":1.73,"h":8054},
{"pn":"BF","t":"2,00 €/l","p":3.73,"h":6035},
{"pn":"BF","t":"4,00 €/l","p":7.63,"h":3246},
{"pn":"BF","t":"8,00 €/l","p":10.27,"h":1387},
{"pn":"BM","t":"1,00 €/l","p":1.5,"h":8096},
{"pn":"BM","t":"2,00 €/l","p":3.94,"h":6149},
{"pn":"BM","t":"4,00 €/l","p":7.84,"h":3095},
{"pn":"BM","t":"8,00 €/l","p":9.27,"h":1129},
{"pn":"KF","t":"2,00 €/l","p":2.64,"h":7538},
{"pn":"KF","t":"4,00 €/l","p":7.21,"h":4707},
{"pn":"KF","t":"8,00 €/l","p":9.07,"h":1873},
{"pn":"KF","t":"16,00 €/l","p":10.15,"h":944},
{"pn":"KM","t":"2,00 €/l","p":2.52,"h":7060},
{"pn":"KM","t":"4,00 €/l","p":8.28,"h":4776},
{"pn":"KM","t":"8,00 €/l","p":10.0,"h":1855},
{"pn":"KM","t":"16,00 €/l","p":10.86,"h":723}
]
},
"columns": 3,
"spacing": {"row": 45, "column": 75},
"bounds": "flush",
"concat": [
 {"width": 327, "height": 311, "title": {"text": "Optimistisch"},
  "resolve": {"axis": {"y": "independent"}},
  "layer": [
   {"data": {"name": "fO"}, "transform": [{"fold": ["b01","b02","b03","b04","b05","b06","b07","b08","b09","b10","b11","b12","b13","b14","b15","b16","b17","b18","b19","b20","b21","b22","b23","b24","b25","b26","b27","b28","b29","b30","b31"], "as": ["k", "x"]}],
    "mark": {"type": "area", "orient": "horizontal", "interpolate": "monotone", "clip": true, "opacity": 1},
    "encoding": {
     "y": {"field": "h", "type": "quantitative", "scale": {"domain": [500, 8760], "nice": false, "zero": false}, "axis": {"orient": "left", "values": [1000,2000,3000,4000,5000,6000,7000,8000], "format": "d", "labelExpr": "datum.value % 2000 === 0 ? datum.label : ''", "tickSize": {"condition": {"test": "datum.value % 2000 !== 0", "value": 3}, "value": 6}, "labelFontSize": 17, "labelPadding": 3, "title": "Jahresvolllaststunden [h/a]", "titleFontSize": 22, "titlePadding": 12}},
     "x": {"field": "x", "type": "quantitative", "stack": null, "scale": {"domain": [0, 14], "nice": false, "zero": false}, "axis": {"values": [0,2.5,5,7.5,10,12.5], "format": "d", "labelExpr": "datum.value % 5 === 0 ? datum.label : ''", "tickSize": {"condition": {"test": "datum.value % 5 !== 0", "value": 3}, "value": 5}, "labelFontSize": 9.5, "labelPadding": 2, "title": null}},
     "x2": {"datum": 100},
     "fill": {"field": "k", "type": "nominal", "legend": null, "scale": {"domain": ["b01","b02","b03","b04","b05","b06","b07","b08","b09","b10","b11","b12","b13","b14","b15","b16","b17","b18","b19","b20","b21","b22","b23","b24","b25","b26","b27","b28","b29","b30","b31","b32","b33","b34","b35","b36","b37","b38","b39"], "range": ["#006400","#0a7008","#167c12","#22891b","#2e9725","#3aa52e","#46b337","#52c040","#5ccb48","#66d650","#70e058","#7aea60","#84f268","#92f574","#a0f780","#aef88c","#bcf998","#c9faa4","#d6fbb0","#e2fcba","#eefdc2","#f8fdc4","#fefbc0","#fff2b6","#ffe8ac","#ffdca3","#fed09a","#fdc28e","#fcb383","#fba478","#fa946d","#f98563","#f87659","#f7684f","#f65a46","#f44c3d","#f23f34","#f0322b","#ee2622"]}}
    }},
   {"data": {"name": "ln"}, "transform": [{"filter": {"field": "pn", "equal": "OF"}}], "mark": {"type": "line", "clip": true, "strokeWidth": 1.1},
    "encoding": {"x": {"field": "p", "type": "quantitative"}, "y": {"field": "h", "type": "quantitative", "axis": {"orient": "left", "offset": 90, "title": "PtL-FTS-Zentral", "titleFontSize": 26, "titlePadding": 5, "labels": false, "ticks": false, "domain": false, "grid": false}}, "detail": {"field": "sg"},
     "color": {"field": "lv", "type": "nominal", "legend": null, "scale": {"domain": ["0,50","1,00","2,00","4,00","8,00","16,00"], "range": ["#1e1e26","#3a3646","#5c5c6a","#84848e","#a2b4c8","#e0e0e4"]}}}},
   {"data": {"name": "lb"}, "transform": [{"filter": {"field": "pn", "equal": "OF"}}], "mark": {"type": "text", "fontSize": 17, "font": "DejaVu Sans", "color": "#000000"},
    "encoding": {"x": {"field": "p", "type": "quantitative"}, "y": {"field": "h", "type": "quantitative", "axis": null}, "text": {"field": "t"}}}
  ]},
 {"width": 327, "height": 311, "title": {"text": "Basis"},
  "layer": [
   {"data": {"name": "fB"}, "transform": [{"fold": ["b03","b04","b05","b06","b07","b08","b09","b10","b11","b12","b13","b14","b15","b16","b17","b18","b19","b20","b21","b22","b23","b24","b25","b26","b27","b28","b29","b30","b31","b32","b33","b34","b35"], "as": ["k", "x"]}],
    "mark": {"type": "area", "orient": "horizontal", "interpolate": "monotone", "clip": true, "opacity": 1},
    "encoding": {
     "y": {"field": "h", "type": "quantitative", "scale": {"domain": [500, 8760], "nice": false, "zero": false}, "axis": {"values": [1000,2000,3000,4000,5000,6000,7000,8000], "labels": false, "tickSize": {"condition": {"test": "datum.value % 2000 !== 0", "value": 3}, "value": 6}, "title": null}},
     "x": {"field": "x", "type": "quantitative", "stack": null, "scale": {"domain": [0, 14], "nice": false, "zero": false}, "axis": {"values": [0,2.5,5,7.5,10,12.5], "format": "d", "labelExpr": "datum.value % 5 === 0 ? datum.label : ''", "tickSize": {"condition": {"test": "datum.value % 5 !== 0", "value": 3}, "value": 5}, "labelFontSize": 9.5, "labelPadding": 2, "title": null}},
     "x2": {"datum": 100},
     "fill": {"field": "k", "type": "nominal", "legend": null, "scale": {"domain": ["b01","b02","b03","b04","b05","b06","b07","b08","b09","b10","b11","b12","b13","b14","b15","b16","b17","b18","b19","b20","b21","b22","b23","b24","b25","b26","b27","b28","b29","b30","b31","b32","b33","b34","b35","b36","b37","b38","b39"], "range": ["#006400","#0a7008","#167c12","#22891b","#2e9725","#3aa52e","#46b337","#52c040","#5ccb48","#66d650","#70e058","#7aea60","#84f268","#92f574","#a0f780","#aef88c","#bcf998","#c9faa4","#d6fbb0","#e2fcba","#eefdc2","#f8fdc4","#fefbc0","#fff2b6","#ffe8ac","#ffdca3","#fed09a","#fdc28e","#fcb383","#fba478","#fa946d","#f98563","#f87659","#f7684f","#f65a46","#f44c3d","#f23f34","#f0322b","#ee2622"]}}
    }},
   {"data": {"name": "ln"}, "transform": [{"filter": {"field": "pn", "equal": "BF"}}], "mark": {"type": "line", "clip": true, "strokeWidth": 1.1},
    "encoding": {"x": {"field": "p", "type": "quantitative"}, "y": {"field": "h", "type": "quantitative"}, "detail": {"field": "sg"},
     "color": {"field": "lv", "type": "nominal", "legend": null, "scale": {"domain": ["0,50","1,00","2,00","4,00","8,00","16,00"], "range": ["#1e1e26","#3a3646","#5c5c6a","#84848e","#a2b4c8","#e0e0e4"]}}}},
   {"data": {"name": "lb"}, "transform": [{"filter": {"field": "pn", "equal": "BF"}}], "mark": {"type": "text", "fontSize": 17, "font": "DejaVu Sans", "color": "#000000"},
    "encoding": {"x": {"field": "p", "type": "quantitative"}, "y": {"field": "h", "type": "quantitative"}, "text": {"field": "t"}}}
  ]},
 {"width": 327, "height": 311, "title": {"text": "Konservativ"},
  "layer": [
   {"data": {"name": "fK"}, "transform": [{"fold": ["b08","b09","b10","b11","b12","b13","b14","b15","b16","b17","b18","b19","b20","b21","b22","b23","b24","b25","b26","b27","b28","b29","b30","b31","b32","b33","b34","b35","b36","b37","b38","b39"], "as": ["k", "x"]}],
    "mark": {"type": "area", "orient": "horizontal", "interpolate": "monotone", "clip": true, "opacity": 1},
    "encoding": {
     "y": {"field": "h", "type": "quantitative", "scale": {"domain": [500, 8760], "nice": false, "zero": false}, "axis": {"values": [1000,2000,3000,4000,5000,6000,7000,8000], "labels": false, "tickSize": {"condition": {"test": "datum.value % 2000 !== 0", "value": 3}, "value": 6}, "title": null}},
     "x": {"field": "x", "type": "quantitative", "stack": null, "scale": {"domain": [0, 14], "nice": false, "zero": false}, "axis": {"values": [0,2.5,5,7.5,10,12.5], "format": "d", "labelExpr": "datum.value % 5 === 0 ? datum.label : ''", "tickSize": {"condition": {"test": "datum.value % 5 !== 0", "value": 3}, "value": 5}, "labelFontSize": 9.5, "labelPadding": 2, "title": null}},
     "x2": {"datum": 100},
     "fill": {"field": "k", "type": "nominal", "legend": null, "scale": {"domain": ["b01","b02","b03","b04","b05","b06","b07","b08","b09","b10","b11","b12","b13","b14","b15","b16","b17","b18","b19","b20","b21","b22","b23","b24","b25","b26","b27","b28","b29","b30","b31","b32","b33","b34","b35","b36","b37","b38","b39"], "range": ["#006400","#0a7008","#167c12","#22891b","#2e9725","#3aa52e","#46b337","#52c040","#5ccb48","#66d650","#70e058","#7aea60","#84f268","#92f574","#a0f780","#aef88c","#bcf998","#c9faa4","#d6fbb0","#e2fcba","#eefdc2","#f8fdc4","#fefbc0","#fff2b6","#ffe8ac","#ffdca3","#fed09a","#fdc28e","#fcb383","#fba478","#fa946d","#f98563","#f87659","#f7684f","#f65a46","#f44c3d","#f23f34","#f0322b","#ee2622"]}}
    }},
   {"data": {"name": "ln"}, "transform": [{"filter": {"field": "pn", "equal": "KF"}}], "mark": {"type": "line", "clip": true, "strokeWidth": 1.1},
    "encoding": {"x": {"field": "p", "type": "quantitative"}, "y": {"field": "h", "type": "quantitative"}, "detail": {"field": "sg"},
     "color": {"field": "lv", "type": "nominal", "legend": null, "scale": {"domain": ["0,50","1,00","2,00","4,00","8,00","16,00"], "range": ["#1e1e26","#3a3646","#5c5c6a","#84848e","#a2b4c8","#e0e0e4"]}}}},
   {"data": {"name": "lb"}, "transform": [{"filter": {"field": "pn", "equal": "KF"}}], "mark": {"type": "text", "fontSize": 17, "font": "DejaVu Sans", "color": "#000000"},
    "encoding": {"x": {"field": "p", "type": "quantitative"}, "y": {"field": "h", "type": "quantitative"}, "text": {"field": "t"}}}
  ]},
 {"width": 327, "height": 311,
  "resolve": {"axis": {"y": "independent"}},
  "layer": [
   {"data": {"name": "fO"}, "transform": [{"fold": ["b01","b02","b03","b04","b05","b06","b07","b08","b09","b10","b11","b12","b13","b14","b15","b16","b17","b18","b19","b20","b21","b22","b23","b24","b25","b26","b27","b28","b29","b30","b31"], "as": ["k", "x"]}],
    "mark": {"type": "area", "orient": "horizontal", "interpolate": "monotone", "clip": true, "opacity": 1},
    "encoding": {
     "y": {"field": "h", "type": "quantitative", "scale": {"domain": [500, 8760], "nice": false, "zero": false}, "axis": {"orient": "left", "values": [1000,2000,3000,4000,5000,6000,7000,8000], "format": "d", "labelExpr": "datum.value % 2000 === 0 ? datum.label : ''", "tickSize": {"condition": {"test": "datum.value % 2000 !== 0", "value": 3}, "value": 6}, "labelFontSize": 17, "labelPadding": 3, "title": "Jahresvolllaststunden [h/a]", "titleFontSize": 22, "titlePadding": 12}},
     "x": {"field": "x", "type": "quantitative", "stack": null, "scale": {"domain": [0, 14], "nice": false, "zero": false}, "axis": {"values": [0,2.5,5,7.5,10,12.5], "format": "d", "labelExpr": "datum.value % 5 === 0 ? datum.label : ''", "tickSize": {"condition": {"test": "datum.value % 5 !== 0", "value": 3}, "value": 5}, "labelFontSize": 17, "labelPadding": 5, "title": "Strombezugskosten [€-ct./kWh]", "titleFontSize": 22, "titlePadding": 16}},
     "x2": {"datum": 100},
     "fill": {"field": "k", "type": "nominal", "legend": null, "scale": {"domain": ["b01","b02","b03","b04","b05","b06","b07","b08","b09","b10","b11","b12","b13","b14","b15","b16","b17","b18","b19","b20","b21","b22","b23","b24","b25","b26","b27","b28","b29","b30","b31","b32","b33","b34","b35","b36","b37","b38","b39"], "range": ["#006400","#0a7008","#167c12","#22891b","#2e9725","#3aa52e","#46b337","#52c040","#5ccb48","#66d650","#70e058","#7aea60","#84f268","#92f574","#a0f780","#aef88c","#bcf998","#c9faa4","#d6fbb0","#e2fcba","#eefdc2","#f8fdc4","#fefbc0","#fff2b6","#ffe8ac","#ffdca3","#fed09a","#fdc28e","#fcb383","#fba478","#fa946d","#f98563","#f87659","#f7684f","#f65a46","#f44c3d","#f23f34","#f0322b","#ee2622"]}}
    }},
   {"data": {"name": "ln"}, "transform": [{"filter": {"field": "pn", "equal": "OM"}}], "mark": {"type": "line", "clip": true, "strokeWidth": 1.1},
    "encoding": {"x": {"field": "p", "type": "quantitative"}, "y": {"field": "h", "type": "quantitative", "axis": {"orient": "left", "offset": 90, "title": "PtL-MtG-Zentral", "titleFontSize": 26, "titlePadding": 5, "labels": false, "ticks": false, "domain": false, "grid": false}}, "detail": {"field": "sg"},
     "color": {"field": "lv", "type": "nominal", "legend": null, "scale": {"domain": ["0,50","1,00","2,00","4,00","8,00","16,00"], "range": ["#1e1e26","#3a3646","#5c5c6a","#84848e","#a2b4c8","#e0e0e4"]}}}},
   {"data": {"name": "lb"}, "transform": [{"filter": {"field": "pn", "equal": "OM"}}], "mark": {"type": "text", "fontSize": 17, "font": "DejaVu Sans", "color": "#000000"},
    "encoding": {"x": {"field": "p", "type": "quantitative"}, "y": {"field": "h", "type": "quantitative", "axis": null}, "text": {"field": "t"}}}
  ]},
 {"width": 327, "height": 311,
  "layer": [
   {"data": {"name": "fB"}, "transform": [{"fold": ["b03","b04","b05","b06","b07","b08","b09","b10","b11","b12","b13","b14","b15","b16","b17","b18","b19","b20","b21","b22","b23","b24","b25","b26","b27","b28","b29","b30","b31","b32","b33","b34","b35"], "as": ["k", "x"]}],
    "mark": {"type": "area", "orient": "horizontal", "interpolate": "monotone", "clip": true, "opacity": 1},
    "encoding": {
     "y": {"field": "h", "type": "quantitative", "scale": {"domain": [500, 8760], "nice": false, "zero": false}, "axis": {"values": [1000,2000,3000,4000,5000,6000,7000,8000], "labels": false, "tickSize": {"condition": {"test": "datum.value % 2000 !== 0", "value": 3}, "value": 6}, "title": null}},
     "x": {"field": "x", "type": "quantitative", "stack": null, "scale": {"domain": [0, 14], "nice": false, "zero": false}, "axis": {"values": [0,2.5,5,7.5,10,12.5], "format": "d", "labelExpr": "datum.value % 5 === 0 ? datum.label : ''", "tickSize": {"condition": {"test": "datum.value % 5 !== 0", "value": 3}, "value": 5}, "labelFontSize": 17, "labelPadding": 5, "title": "Strombezugskosten [€-ct./kWh]", "titleFontSize": 22, "titlePadding": 16}},
     "x2": {"datum": 100},
     "fill": {"field": "k", "type": "nominal", "legend": null, "scale": {"domain": ["b01","b02","b03","b04","b05","b06","b07","b08","b09","b10","b11","b12","b13","b14","b15","b16","b17","b18","b19","b20","b21","b22","b23","b24","b25","b26","b27","b28","b29","b30","b31","b32","b33","b34","b35","b36","b37","b38","b39"], "range": ["#006400","#0a7008","#167c12","#22891b","#2e9725","#3aa52e","#46b337","#52c040","#5ccb48","#66d650","#70e058","#7aea60","#84f268","#92f574","#a0f780","#aef88c","#bcf998","#c9faa4","#d6fbb0","#e2fcba","#eefdc2","#f8fdc4","#fefbc0","#fff2b6","#ffe8ac","#ffdca3","#fed09a","#fdc28e","#fcb383","#fba478","#fa946d","#f98563","#f87659","#f7684f","#f65a46","#f44c3d","#f23f34","#f0322b","#ee2622"]}}
    }},
   {"data": {"name": "ln"}, "transform": [{"filter": {"field": "pn", "equal": "BM"}}], "mark": {"type": "line", "clip": true, "strokeWidth": 1.1},
    "encoding": {"x": {"field": "p", "type": "quantitative"}, "y": {"field": "h", "type": "quantitative"}, "detail": {"field": "sg"},
     "color": {"field": "lv", "type": "nominal", "legend": null, "scale": {"domain": ["0,50","1,00","2,00","4,00","8,00","16,00"], "range": ["#1e1e26","#3a3646","#5c5c6a","#84848e","#a2b4c8","#e0e0e4"]}}}},
   {"data": {"name": "lb"}, "transform": [{"filter": {"field": "pn", "equal": "BM"}}], "mark": {"type": "text", "fontSize": 17, "font": "DejaVu Sans", "color": "#000000"},
    "encoding": {"x": {"field": "p", "type": "quantitative"}, "y": {"field": "h", "type": "quantitative"}, "text": {"field": "t"}}}
  ]},
 {"width": 327, "height": 311,
  "layer": [
   {"data": {"name": "fK"}, "transform": [{"fold": ["b08","b09","b10","b11","b12","b13","b14","b15","b16","b17","b18","b19","b20","b21","b22","b23","b24","b25","b26","b27","b28","b29","b30","b31","b32","b33","b34","b35","b36","b37","b38","b39"], "as": ["k", "x"]}],
    "mark": {"type": "area", "orient": "horizontal", "interpolate": "monotone", "clip": true, "opacity": 1},
    "encoding": {
     "y": {"field": "h", "type": "quantitative", "scale": {"domain": [500, 8760], "nice": false, "zero": false}, "axis": {"values": [1000,2000,3000,4000,5000,6000,7000,8000], "labels": false, "tickSize": {"condition": {"test": "datum.value % 2000 !== 0", "value": 3}, "value": 6}, "title": null}},
     "x": {"field": "x", "type": "quantitative", "stack": null, "scale": {"domain": [0, 14], "nice": false, "zero": false}, "axis": {"values": [0,2.5,5,7.5,10,12.5], "format": "d", "labelExpr": "datum.value % 5 === 0 ? datum.label : ''", "tickSize": {"condition": {"test": "datum.value % 5 !== 0", "value": 3}, "value": 5}, "labelFontSize": 17, "labelPadding": 5, "title": "Strombezugskosten [€-ct./kWh]", "titleFontSize": 22, "titlePadding": 16}},
     "x2": {"datum": 100},
     "fill": {"field": "k", "type": "nominal", "legend": null, "scale": {"domain": ["b01","b02","b03","b04","b05","b06","b07","b08","b09","b10","b11","b12","b13","b14","b15","b16","b17","b18","b19","b20","b21","b22","b23","b24","b25","b26","b27","b28","b29","b30","b31","b32","b33","b34","b35","b36","b37","b38","b39"], "range": ["#006400","#0a7008","#167c12","#22891b","#2e9725","#3aa52e","#46b337","#52c040","#5ccb48","#66d650","#70e058","#7aea60","#84f268","#92f574","#a0f780","#aef88c","#bcf998","#c9faa4","#d6fbb0","#e2fcba","#eefdc2","#f8fdc4","#fefbc0","#fff2b6","#ffe8ac","#ffdca3","#fed09a","#fdc28e","#fcb383","#fba478","#fa946d","#f98563","#f87659","#f7684f","#f65a46","#f44c3d","#f23f34","#f0322b","#ee2622"]}}
    }},
   {"data": {"name": "ln"}, "transform": [{"filter": {"field": "pn", "equal": "KM"}}], "mark": {"type": "line", "clip": true, "strokeWidth": 1.1},
    "encoding": {"x": {"field": "p", "type": "quantitative"}, "y": {"field": "h", "type": "quantitative"}, "detail": {"field": "sg"},
     "color": {"field": "lv", "type": "nominal", "legend": null, "scale": {"domain": ["0,50","1,00","2,00","4,00","8,00","16,00"], "range": ["#1e1e26","#3a3646","#5c5c6a","#84848e","#a2b4c8","#e0e0e4"]}}}},
   {"data": {"name": "lb"}, "transform": [{"filter": {"field": "pn", "equal": "KM"}}], "mark": {"type": "text", "fontSize": 17, "font": "DejaVu Sans", "color": "#000000"},
    "encoding": {"x": {"field": "p", "type": "quantitative"}, "y": {"field": "h", "type": "quantitative"}, "text": {"field": "t"}}}
  ]}
]
}
